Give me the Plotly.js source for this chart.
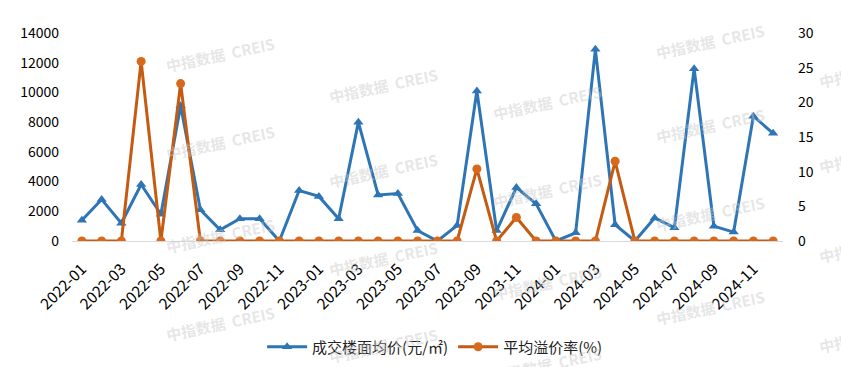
<!DOCTYPE html>
<html>
<head>
<meta charset="utf-8">
<script src="https://cdn.plot.ly/plotly-3.0.1.min.js"></script>
<style>html,body{margin:0;padding:0;background:#fff;}#chart{width:841px;height:367px;}</style>
</head>
<body>
<div id="chart"></div>
<script>
const months = [
  "2022-01","2022-02","2022-03","2022-04","2022-05","2022-06","2022-07","2022-08","2022-09","2022-10","2022-11","2022-12",
  "2023-01","2023-02","2023-03","2023-04","2023-05","2023-06","2023-07","2023-08","2023-09","2023-10","2023-11","2023-12",
  "2024-01","2024-02","2024-03","2024-04","2024-05","2024-06","2024-07","2024-08","2024-09","2024-10","2024-11","2024-12"
];
const avgPrice = [
  1400, 2800, 1200, 3800, 1800, 9100, 2100, 750, 1500, 1500, 0, 3400,
  3000, 1500, 8000, 3100, 3200, 700, 0, 1050, 10100, 700, 3600, 2500,
  0, 550, 12900, 1100, 0, 1550, 900, 11600, 1000, 600, 8400, 7250
];
const premiumRate = [
  0, 0, 0, 25.9, 0, 22.7, 0, 0, 0, 0, 0, 0,
  0, 0, 0, 0, 0, 0, 0, 0, 10.4, 0, 3.4, 0,
  0, 0, 0, 11.5, 0, 0, 0, 0, 0, 0, 0, 0
];
const tickLabels = months.filter((m, i) => i % 2 === 0);
const leftTicks = [0, 2000, 4000, 6000, 8000, 10000, 12000, 14000];
const rightTicks = [0, 5, 10, 15, 20, 25, 30];
const seriesNames = ["成交楼面均价(元/㎡)", "平均溢价率(%)"];
const watermarkText = "中指数据  CREIS";

const FONT = '"Noto Sans CJK SC", "Noto Sans", sans-serif';
const L = 72, R = 783, T = 33, B = 241;
const W = R - L, H = B - T;
const wmPx = [
  [220,55],[220,142],[220,235],[220,323],
  [383,85],[383,170],[383,258],[383,345],
  [547,102],[547,190],[547,282],[547,364],
  [710,42],[710,125],[710,213],[710,307],
  [873,70],[873,155],[873,245],[873,335]
];
const annotations = wmPx.map(p => ({
  xref: 'paper', yref: 'paper',
  x: (p[0] - L) / W, y: (B - p[1]) / H,
  xanchor: 'center', yanchor: 'middle',
  text: '<b>' + watermarkText + '</b>',
  showarrow: false, textangle: -12,
  font: {family: FONT, size: 15, color: 'rgba(200,200,200,0.45)'}
}));

const traces = [
  {
    x: months, y: avgPrice, name: seriesNames[0], type: 'scatter', mode: 'lines+markers',
    yaxis: 'y', line: {color: '#2E75B6', width: 3},
    marker: {symbol: 'triangle-up', size: 9, color: '#2E75B6'}
  },
  {
    x: months, y: premiumRate, name: seriesNames[1], type: 'scatter', mode: 'lines+markers',
    yaxis: 'y2', line: {color: '#C55A11', width: 3},
    marker: {symbol: 'circle', size: 9, color: '#D8691C'}
  }
];

const layout = {
  width: 841, height: 367,
  margin: {l: L, r: 841 - R, t: T, b: 367 - B, pad: 0, autoexpand: false},
  paper_bgcolor: '#fff', plot_bgcolor: '#fff',
  font: {family: FONT, size: 14, color: '#000'},
  showlegend: true,
  legend: {
    orientation: 'h', x: 0.51, xanchor: 'center', xref: 'paper',
    yref: 'container', y: 1 - 347 / 367, yanchor: 'middle',
    font: {family: FONT, size: 15, color: '#222'},
    itemwidth: 40, traceorder: 'normal'
  },
  xaxis: {
    type: 'category', categoryorder: 'array', categoryarray: months,
    range: [-0.5, months.length - 0.5], automargin: false,
    tickmode: 'array', tickvals: tickLabels, ticktext: tickLabels,
    tickangle: -45, ticks: '', showgrid: false, zeroline: false, showline: false,
    ticklabelstandoff: 15,
    tickfont: {family: FONT, size: 15.5, color: '#000'}
  },
  yaxis: {
    range: [0, 14000], tickmode: 'array', tickvals: leftTicks, ticktext: leftTicks.map(String),
    automargin: false,
    showgrid: false, zeroline: true, zerolinecolor: '#d9d9d9', zerolinewidth: 1,
    showline: false, ticks: '', ticklabelstandoff: 12,
    tickfont: {family: FONT, size: 14, color: '#000'}
  },
  yaxis2: {
    overlaying: 'y', side: 'right', range: [0, 30], tickmode: 'array',
    tickvals: rightTicks, ticktext: rightTicks.map(String), automargin: false,
    showgrid: false, zeroline: false, showline: false, ticks: '', ticklabelstandoff: 14,
    tickfont: {family: FONT, size: 14, color: '#000'}
  },
  annotations: annotations
};

Plotly.newPlot('chart', traces, layout, {displayModeBar: false, staticPlot: true});
</script>
</body>
</html>
